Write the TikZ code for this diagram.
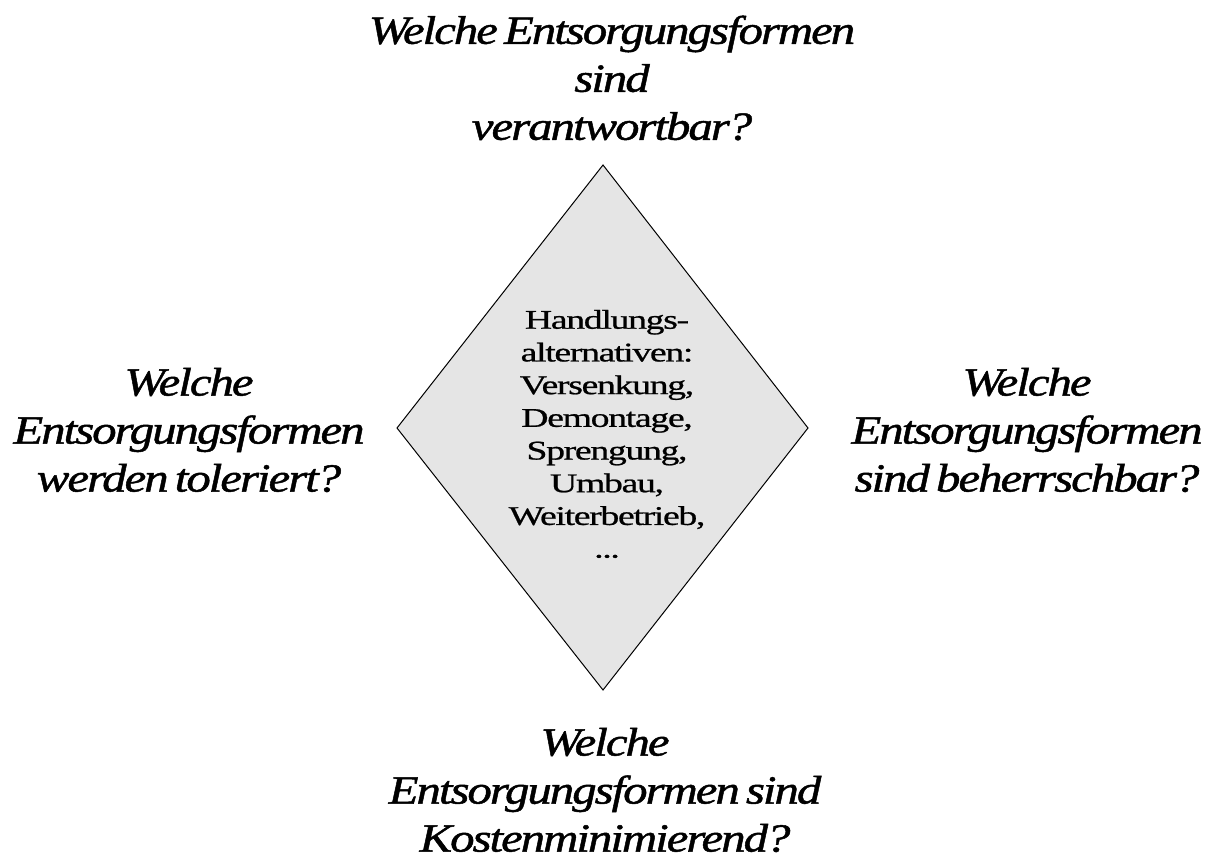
\documentclass[tikz,border=0pt]{standalone}
\usepackage{fontspec}
\setmainfont{Liberation Serif}
\newfontfamily\outerfont[LetterSpace=-5,FakeStretch=1.22,WordSpace=0.6,FakeBold=1.2]{Liberation Serif}
\newfontfamily\innerfont[LetterSpace=-5,FakeStretch=1.4,WordSpace=0.6,FakeBold=0.8]{Liberation Serif}
\begin{document}
\begin{tikzpicture}[x=1pt,y=-1pt,
  outertxt/.style={font=\outerfont\fontsize{40}{48}\selectfont\itshape, align=center, inner sep=0pt},
  innertxt/.style={font=\innerfont\fontsize{27}{32.7}\selectfont, align=center, inner sep=0pt},
  diamondshape/.style={draw=black, fill=black!10, line width=1pt, line join=miter}]
\useasboundingbox (0,0) rectangle (1220,858);
\coordinate (dt) at (603,165);
\coordinate (dr) at (808,428);
\coordinate (db) at (603,690);
\coordinate (dl) at (397,428);
\draw[diamondshape] (dt) -- (dr) -- (db) -- (dl) -- cycle;
\node[innertxt] (center) at (607,434) {Handlungs-\\alternativen:\\Versenkung,\\Demontage,\\Sprengung,\\Umbau,\\Weiterbetrieb,\\...};
\node[outertxt] (top) at (612,78) {Welche Entsorgungsformen\\sind\\verantwortbar?};
\node[outertxt] (left) at (189,430) {Welche\\Entsorgungsformen\\werden toleriert?};
\node[outertxt] (right) at (1027,430) {Welche\\Entsorgungsformen\\sind beherrschbar?};
\node[outertxt] (bottom) at (605,790) {Welche\\Entsorgungsformen sind\\Kostenminimierend?};
\end{tikzpicture}
\end{document}
